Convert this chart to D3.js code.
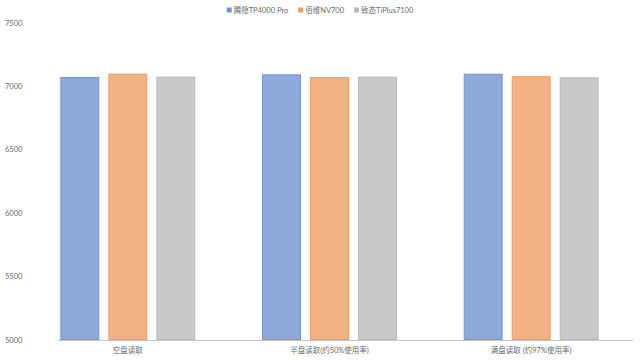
<!DOCTYPE html>
<html>
<head>
<meta charset="utf-8">
<script src="https://cdn.jsdelivr.net/npm/d3@7"></script>
<style>
  body { margin: 0; background: #fff; }
  text { font-family: Lato, "Noto Sans CJK SC", sans-serif; fill: #6b6b6b; }
</style>
</head>
<body>
<svg id="chart"></svg>
<script>
// chart data
var categories = ["空盘读取", "半盘读取(约50%使用率)", "满盘读取 (约97%使用率)"];
var seriesNames = ["腾隐TP4000 Pro", "佰维NV700", "致态TiPlus7100"];
var tp4000 = [7074, 7095, 7100];
var nv700 = [7100, 7074, 7080];
var tiplus = [7077, 7077, 7072];
var yTicks = [5000, 5500, 6000, 6500, 7000, 7500];

var fills = ["#8eaadb", "#f4b183", "#c9c9c9"];
var strokes = ["#6f93d6", "#f09a5e", "#b9b9b9"];

var dimensions = {
    width: 640,
    height: 360,
    margins: { top: 23, right: 8, bottom: 20, left: 58 }
};

var svg = d3.select("#chart")
    .attr("width", dimensions.width)
    .attr("height", dimensions.height);

var series = [tp4000, nv700, tiplus];
var rows = [];
categories.forEach(function(c, i) {
    series.forEach(function(s, j) {
        rows.push({ cat: c, name: seriesNames[j], idx: j, value: s[i] });
    });
});

var yScale = d3.scaleLinear()
    .domain([5000, 7500])
    .range([340, 23]);

var xScale = d3.scaleBand()
    .domain(categories)
    .range([27, 632]);

var inner = d3.scaleBand()
    .domain(seriesNames)
    .range([0, 144])
    .paddingInner(0.19)
    .paddingOuter(0.095);

// y tick labels (no gridlines)
svg.selectAll(".ytick")
    .data(yTicks)
    .enter()
    .append("text")
    .attr("class", "ytick")
    .attr("x", 5)
    .attr("y", d => yScale(d))
    .attr("dy", "0.35em")
    .style("font-size", "7.5px")
    .text(d => d);

// faint left edge
svg.append("line")
    .attr("x1", 59.5).attr("x2", 59.5)
    .attr("y1", 78).attr("y2", 340)
    .attr("stroke", "#f0f0f0");

// bars
svg.selectAll("rect.bar")
    .data(rows)
    .enter()
    .append("rect")
    .attr("class", "bar")
    .attr("x", d => xScale(d.cat) + xScale.bandwidth() / 2 - 72 + inner(d.name) + 0.5)
    .attr("y", d => yScale(d.value) + 0.5)
    .attr("width", inner.bandwidth() - 1)
    .attr("height", d => yScale(5000) - yScale(d.value) - 1)
    .attr("fill", d => fills[d.idx])
    .attr("stroke", d => strokes[d.idx])
    .attr("stroke-width", 1);

// x axis line
svg.append("line")
    .attr("x1", 58).attr("x2", 633)
    .attr("y1", 340.5).attr("y2", 340.5)
    .attr("stroke", "#c8c8c8");

// category labels
svg.selectAll(".xlabel")
    .data(categories)
    .enter()
    .append("text")
    .attr("class", "xlabel")
    .attr("x", d => xScale(d) + xScale.bandwidth() / 2)
    .attr("y", 350)
    .attr("dy", "0.35em")
    .attr("text-anchor", "middle")
    .style("font-size", "7.5px")
    .text(d => d);

// legend, laid out from measured text widths and centred
var legend = svg.selectAll(".legend")
    .data(seriesNames)
    .enter()
    .append("g")
    .attr("class", "legend");

legend.append("rect")
    .attr("x", 0).attr("y", -2.5)
    .attr("width", 5).attr("height", 5)
    .attr("fill", (d, i) => strokes[i]);

legend.append("text")
    .attr("x", 7)
    .attr("dy", "0.35em")
    .style("font-size", "7.5px")
    .text(d => d);

var widths = [];
legend.select("text").each(function() { widths.push(7 + this.getComputedTextLength()); });
var gap = 10;
var total = d3.sum(widths) + gap * (widths.length - 1);
var cursor = 320 - total / 2;
legend.attr("transform", function(d, i) {
    var x = cursor;
    cursor += widths[i] + gap;
    return "translate(" + x + ",10)";
});
</script>
</body>
</html>
